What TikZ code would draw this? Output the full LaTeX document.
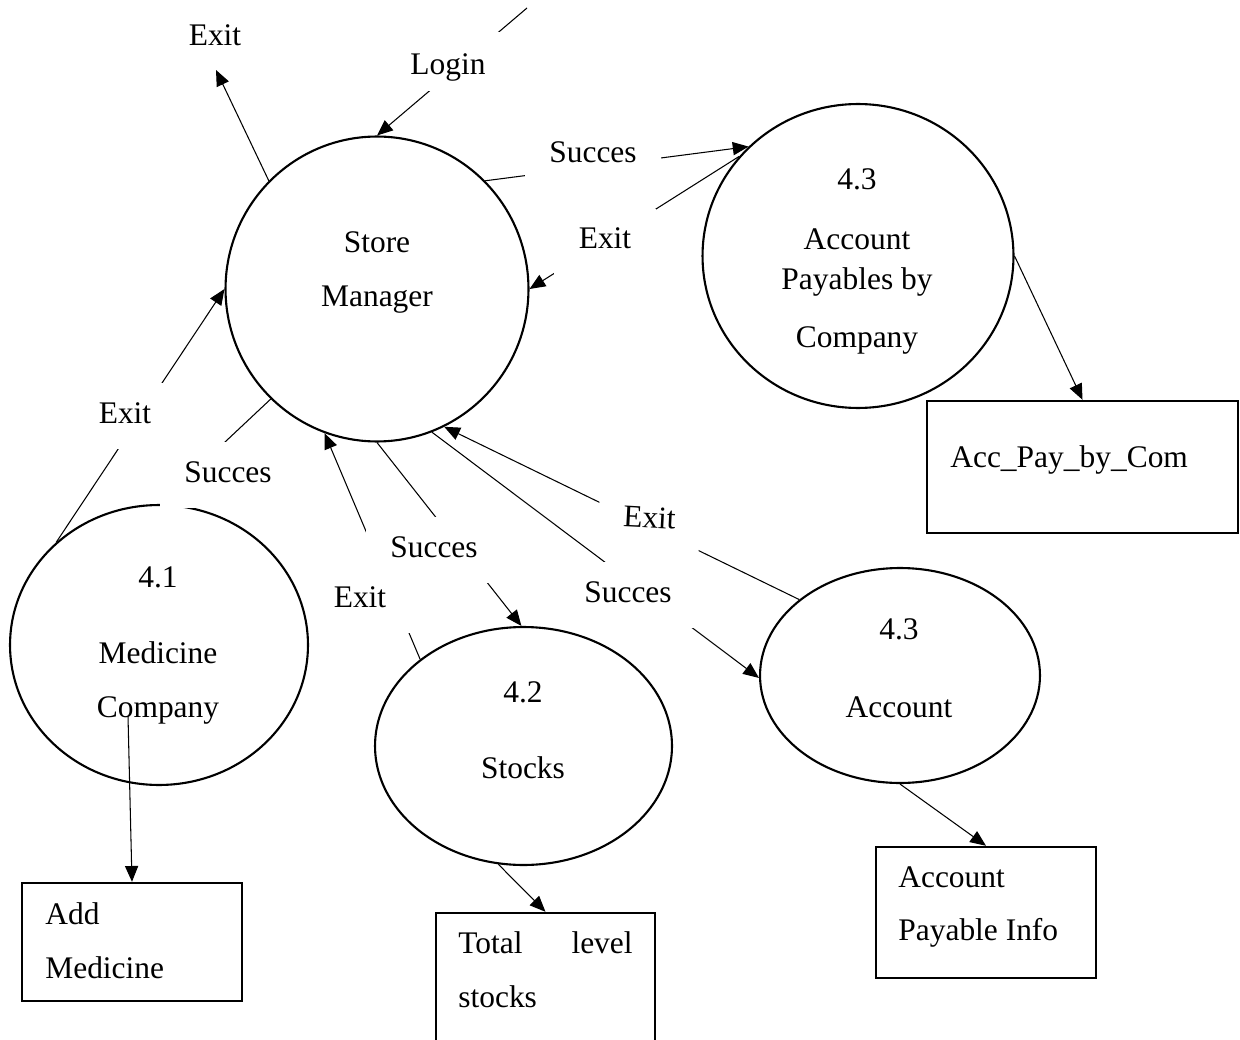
\documentclass[tikz,border=0pt]{standalone}
\usepackage{fontspec}
\setmainfont{Liberation Serif}
\usetikzlibrary{arrows.meta,shapes.geometric}

\begin{document}
\begin{tikzpicture}[x=0.02cm,y=-0.02cm,
  font=\fontsize{17.9}{21}\selectfont,
  proc/.style={draw,ellipse,line width=1.2pt,inner sep=0pt},
  datastore/.style={draw,rectangle,line width=1.4pt,inner sep=0pt},
  flow/.style={line width=0.6pt,-{Triangle[length=9pt,width=7.5pt]}},
  plainflow/.style={line width=0.6pt},
  lbl/.style={fill=white,inner xsep=14pt,inner ysep=10.5pt,
              text height=12.5pt,text depth=4.5pt,anchor=base},
  txt/.style={inner sep=0pt,anchor=base},
  txtl/.style={inner sep=0pt,anchor=base west}]

\useasboundingbox (0,0) rectangle (1240,1040);
\clip (0,0) rectangle (1240,1040);

% processes
\node[proc,minimum width=6.06cm,minimum height=6.1cm]  (sm)  at (377,289)   {};
\node[proc,minimum width=6.22cm,minimum height=6.08cm] (apc) at (858,256)   {};
\node[proc,minimum width=5.96cm,minimum height=5.6cm]  (mc)  at (159,645)   {};
\node[proc,minimum width=5.94cm,minimum height=4.76cm] (st)  at (523.5,746) {};
\node[proc,minimum width=5.6cm,minimum height=4.3cm]   (ac)  at (900,675.5) {};

% data stores
\node[datastore,minimum width=6.22cm,minimum height=2.64cm] (b1) at (1082.5,467) {};
\node[datastore,minimum width=4.4cm,minimum height=2.36cm]  (b2) at (132,942)    {};
\node[datastore,minimum width=4.38cm,minimum height=3.08cm] (b3) at (545.5,990)  {};
\node[datastore,minimum width=4.4cm,minimum height=2.62cm]  (b4) at (986,912.5)  {};

% free ends
\coordinate (exitTop)  at (216,70);
\coordinate (loginSrc) at (527,8);
\coordinate (mcOut)    at (128,716);

% data flows
\draw[flow] (sm.135) -- (exitTop);
\draw[flow] (loginSrc) -- (sm.90);
\draw[flow] (sm.45) -- (apc.135);
\draw[flow] (apc.140) -- (sm.0);
\draw[flow] (mc.135) -- (sm.180);
\draw[plainflow,shorten >=22pt] (sm.226) -- (mc.90);
\draw[flow] (st.140) -- (sm.250);
\draw[flow] (sm.270) -- (st.91);
\draw[flow] (sm.291) -- (ac.181);
\draw[flow] (ac.143) -- (sm.296);
\draw[flow] (apc.0) -- (b1.north);
\draw[flow] (mcOut) -- (b2.north);
\draw[flow] (st.258) -- (b3.north);
\draw[flow] (ac.south) -- (b4.north);

% flow labels
\node[txt] (lExitTop) at (215,46) {Exit};
\node[lbl,text height=17pt,text depth=1.8pt,inner ysep=7.4pt] (lLogin) at (448,75) {Login};
\node[lbl] (lS1) at (593,163) {Succes};
\node[lbl] (lE1) at (605,249) {Exit};
\node[lbl] (lE2) at (125,423) {Exit};
\node[lbl] (lS2) at (228,482) {Succes};
\node[lbl] (lE3) at (360,607) {Exit};
\node[lbl] (lS3) at (434,557) {Succes};
\node[lbl] (lS4) at (628,602) {Succes};
\node[lbl,rotate=-3] (lE4) at (649,528) {Exit};

% process texts
\node[txt] (smA) at (377,253) {Store};
\node[txt] (smB) at (377,307) {Manager};

\node[txt] (apcA) at (857,190) {4.3};
\node[txt] (apcB) at (857,250) {Account};
\node[txt] (apcC) at (857,290) {Payables by};
\node[txt] (apcD) at (857,348) {Company};

\node[txt] (mcA) at (158,587) {4.1};
\node[txt] (mcB) at (158,663) {Medicine};
\node[txt] (mcC) at (158,717) {Company};

\node[txt] (stA) at (523,702) {4.2};
\node[txt] (stB) at (523,778) {Stocks};

\node[txt] (acA) at (899,639) {4.3};
\node[txt] (acB) at (899,717) {Account};

% data store texts
\node[txtl] (b1A) at (950,467) {Acc\_Pay\_by\_Com};
\node[txtl] (b2A) at (45,924) {Add};
\node[txtl] (b2B) at (45,978) {Medicine};
\node[txtl] (b3A) at (458,953) {Total};
\node[txt,anchor=base east] (b3B) at (633,953) {level};
\node[txtl] (b3C) at (458,1007) {stocks};
\node[txtl] (b4A) at (898,887) {Account};
\node[txtl] (b4B) at (898,940) {Payable Info};
\end{tikzpicture}
\end{document}
